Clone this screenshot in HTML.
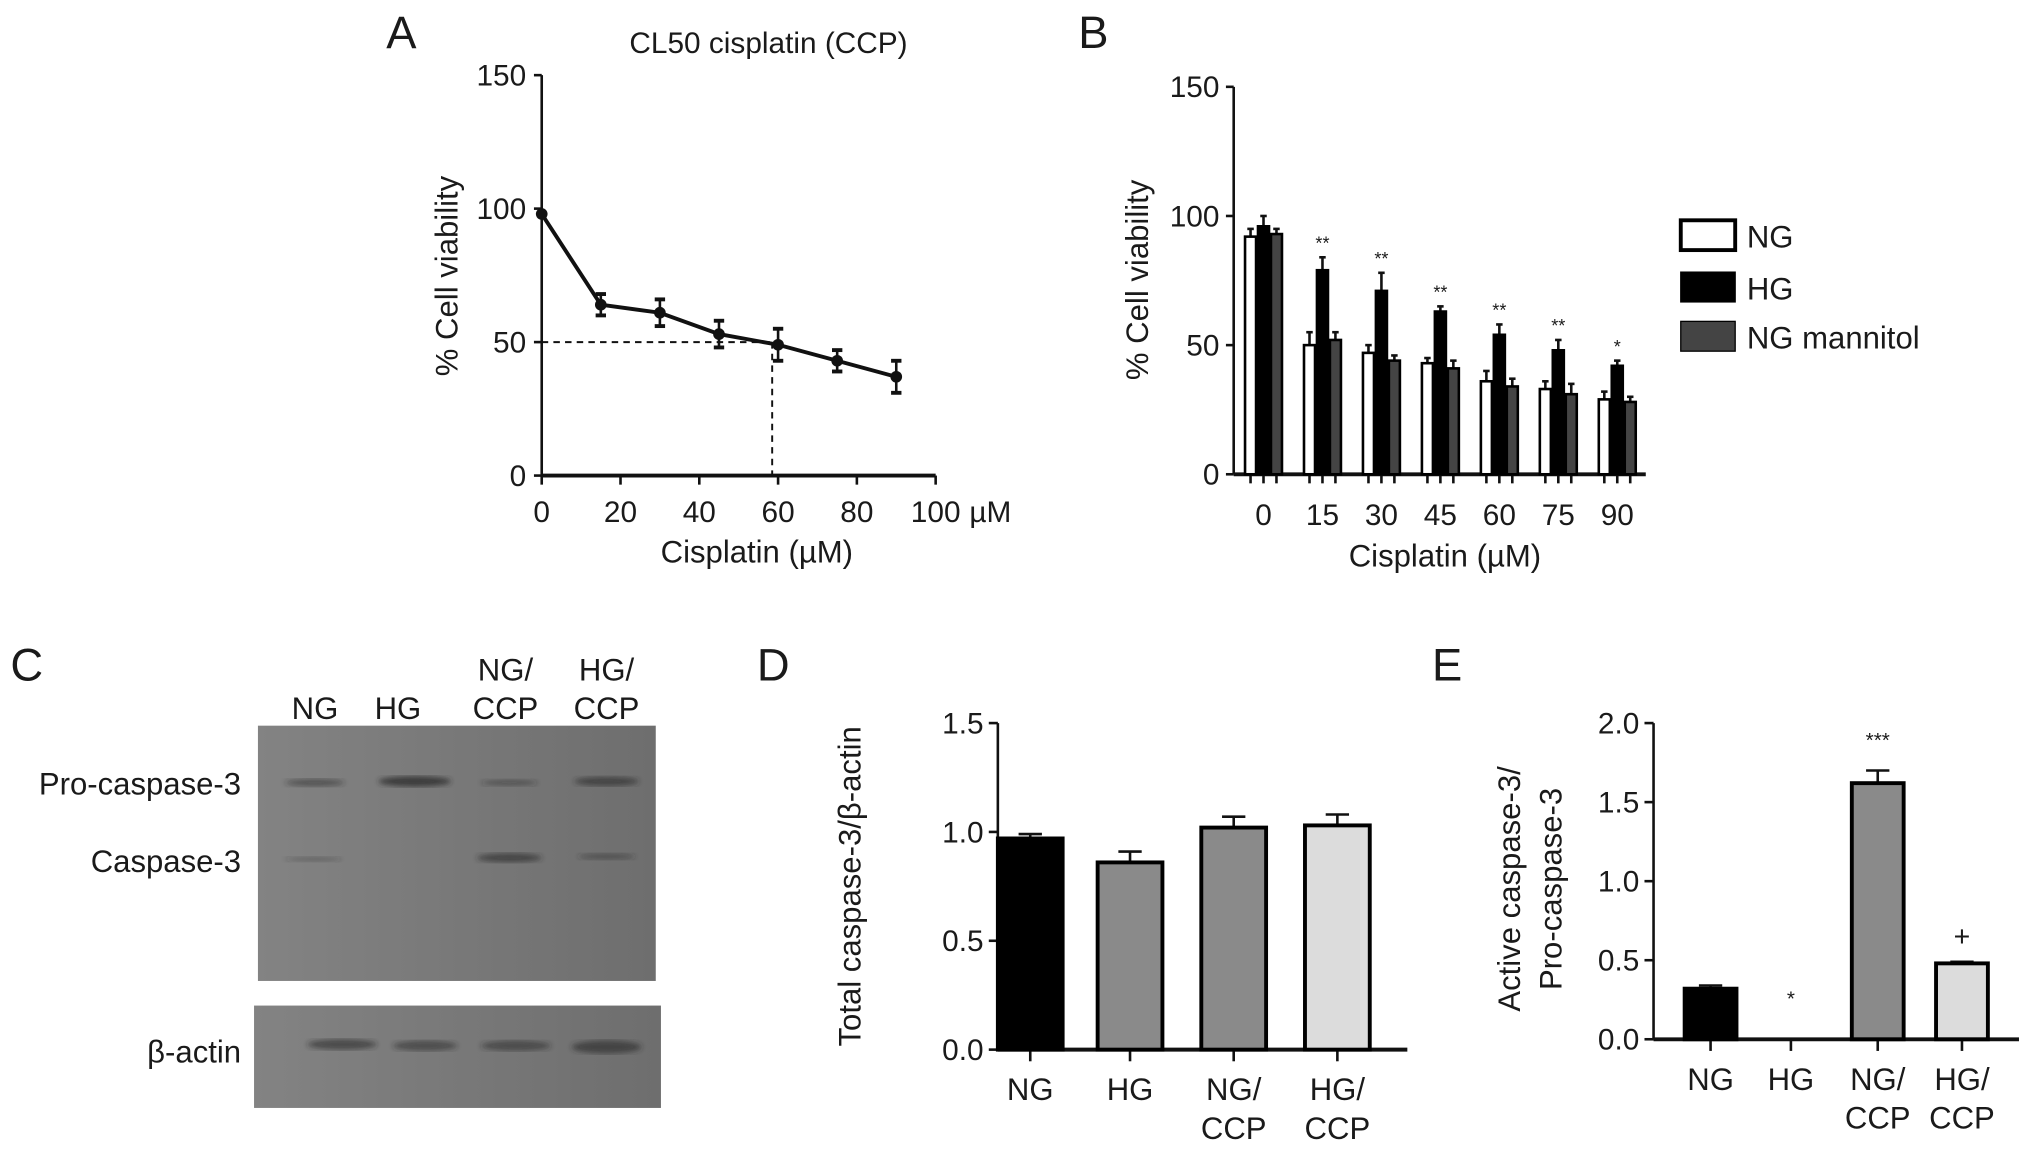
<!DOCTYPE html>
<html><head><meta charset="utf-8"><style>
html,body{margin:0;padding:0;background:#fff}
svg{display:block}
text{font-family:"Liberation Sans",Arial,sans-serif;fill:#1a1a1a}
</style></head><body>
<svg id="fig" width="2032" height="1152" viewBox="0 0 1568 889" xmlns="http://www.w3.org/2000/svg">
<g id="pA"></g>
<g id="pB"></g>
<g id="pC"></g>
<g id="pD"></g>
<g id="pE"></g>
</svg>
<script>
// Panel A data
const aDoses=[0,15,30,45,60,75,90];
const aViab=[98,64,61,53,49,43,37];
const aErr=[2,4,5,5,6,4,6];
const aXTicks=[0,20,40,60,80,100];
const aYTicks=[0,50,100,150];
// Panel B data
const bDoses=["0","15","30","45","60","75","90"];
const bNG=[92,50,47,43,36,33,29];
const bHG=[96,79,71,63,54,48,42];
const bMan=[93,52,44,41,34,31,28];
const bNGErr=[3,5,3,2,4,3,3];
const bHGErr=[4,5,7,2,4,4,2];
const bManErr=[2,3,2,3,3,4,2];
const bStars=["","**","**","**","**","**","*"];
const bYTicks=[0,50,100,150];
// Panel D data
const dCats=[["NG"],["HG"],["NG/","CCP"],["HG/","CCP"]];
const dVals=[0.97,0.86,1.02,1.03];
const dErr=[0.02,0.05,0.05,0.05];
const dYTicks=[0,0.5,1.0,1.5];
// Panel E data
const eCats=[["NG"],["HG"],["NG/","CCP"],["HG/","CCP"]];
const eVals=[0.32,0,1.62,0.48];
const eErr=[0.02,0,0.08,0.01];
const eMarks=["","*","***","+"];
const eYTicks=[0,0.5,1.0,1.5,2.0];

const NS="http://www.w3.org/2000/svg";
function mk(parent,tag,attrs,txt){const e=document.createElementNS(NS,tag);for(const k in attrs)e.setAttribute(k,attrs[k]);if(txt!==undefined)e.textContent=txt;parent.appendChild(e);return e;}
function line(p,x1,y1,x2,y2,w,dash){const l=mk(p,'line',{x1,y1,x2,y2,stroke:'#111','stroke-width':w||2});if(dash)l.setAttribute('stroke-dasharray',dash);return l;}
const TF=23, TT=24;

// ---------- Panel A ----------
(function(){
const g=document.getElementById('pA');
const xs=v=>418+v*3.04, ys=v=>367-v*(309/150);
let t=mk(g,'text',{x:298,y:37,'font-size':35});t.textContent='A';


t=mk(g,'text',{x:593,y:41,'font-size':23,'text-anchor':'middle'},'CL50 cisplatin (CCP)');


let ax=line(g,418,ys(150),418,367,2);


ax=line(g,418,367,722,367,3);


aYTicks.forEach(v=>{line(g,412,ys(v),418,ys(v),2);const tt=mk(g,'text',{x:406,y:ys(v)+8,'font-size':TF,'text-anchor':'end'},String(v));

});
aXTicks.forEach(v=>{line(g,xs(v),367,xs(v),374,2);const tt=mk(g,'text',{x:xs(v),y:403,'font-size':TF,'text-anchor':'middle'},String(v));

});
mk(g,'text',{x:748,y:403,'font-size':TF},'µM');
t=mk(g,'text',{x:584,y:434,'font-size':TT,'text-anchor':'middle'},'Cisplatin (µM)');


t=mk(g,'text',{x:0,y:0,'font-size':TT,'text-anchor':'middle',transform:'translate(353,213) rotate(-90)'},'% Cell viability');


const c50=58.5;
line(g,418,ys(50),xs(c50),ys(50),1.5,'5,4');
line(g,xs(c50),ys(50),xs(c50),367,1.5,'5,4');
const pts=aDoses.map((d,i)=>xs(d)+','+ys(aViab[i])).join(' ');
const pl=mk(g,'polyline',{points:pts,fill:'none',stroke:'#111','stroke-width':3});


aDoses.forEach((d,i)=>{const x=xs(d),y=ys(aViab[i]);
 if(aErr[i]>2){line(g,x,ys(aViab[i]+aErr[i]),x,ys(aViab[i]-aErr[i]),2);line(g,x-4,ys(aViab[i]+aErr[i]),x+4,ys(aViab[i]+aErr[i]),3);line(g,x-4,ys(aViab[i]-aErr[i]),x+4,ys(aViab[i]-aErr[i]),3);}
 const c=mk(g,'circle',{cx:x,cy:y,r:4.5,fill:'#111'});
 
 });
})();

// ---------- Panel B ----------
(function(){
const g=document.getElementById('pB');
const ys=v=>366-v*(299/150);
const gx=i=>975+i*45.5;
const bw=8.5;
let t=mk(g,'text',{x:832,y:37,'font-size':35},'B');


let ax=line(g,952,ys(150),952,366,2);


ax=line(g,952,366,1270,366,3);


bYTicks.forEach(v=>{line(g,946,ys(v),952,ys(v),2);const tt=mk(g,'text',{x:941,y:ys(v)+8,'font-size':TF,'text-anchor':'end'},String(v));

});
const series=[[bNG,bNGErr,'#fff'],[bHG,bHGErr,'#000'],[bMan,bManErr,'#444']];
bDoses.forEach((d,i)=>{
 series.forEach((s,k)=>{const x=gx(i)+(k-1)*(bw+1.5);const v=s[0][i],e=s[1][i];
  line(g,x,366,x,373,2);
  line(g,x,ys(v),x,ys(v+e),2);line(g,x-2.5,ys(v+e),x+2.5,ys(v+e),2);
  const r=mk(g,'rect',{x:x-bw/2,y:ys(v),width:bw,height:366-ys(v),fill:s[2],stroke:'#000','stroke-width':2});
  
  });
 const tt=mk(g,'text',{x:gx(i),y:405,'font-size':TF,'text-anchor':'middle'},d);
 
 
 if(bStars[i]){const st=mk(g,'text',{x:gx(i),y:ys(bHG[i]+bHGErr[i])-6,'font-size':14,'text-anchor':'middle'},bStars[i]);
 
 }
});
t=mk(g,'text',{x:1115,y:437,'font-size':TT,'text-anchor':'middle'},'Cisplatin (µM)');


t=mk(g,'text',{x:0,y:0,'font-size':TT,'text-anchor':'middle',transform:'translate(886,216) rotate(-90)'},'% Cell viability');


const leg=[['NG','#fff',170],['HG','#000',210],['NG mannitol','#444',248]];
leg.forEach(l=>{const r=mk(g,'rect',{x:1297,y:l[2],width:42,height:23,fill:l[1],stroke:'#000','stroke-width':l[1]=='#fff'?3:1});
 
 
 const tt=mk(g,'text',{x:1348,y:l[2]+21,'font-size':24},l[0]);
 
 });
})();

// ---------- Panel C (western blot) ----------
(function(){
const g=document.getElementById('pC');
let t=mk(g,'text',{x:8,y:525,'font-size':35},'C');


const defs=mk(g,'defs',{});
const lg=mk(defs,'linearGradient',{id:'blotg',x1:0,y1:0,x2:1,y2:0});
mk(lg,'stop',{offset:0,'stop-color':'#838383'});mk(lg,'stop',{offset:1,'stop-color':'#6e6e6e'});
const bf=mk(defs,'filter',{id:'blur'});mk(bf,'feGaussianBlur',{stdDeviation:2});
let r=mk(g,'rect',{x:199,y:560,width:307,height:197,fill:'url(#blotg)'});


r=mk(g,'rect',{x:196,y:776,width:314,height:79,fill:'url(#blotg)'});


const lanes=[[243,['NG']],[307,['HG']],[390,['NG/','CCP']],[468,['HG/','CCP']]];
lanes.forEach(l=>{const ys=l[1].length==1?[555]:[525,555];l[1].forEach((s,j)=>{const tt=mk(g,'text',{x:l[0],y:ys[j],'font-size':24,'text-anchor':'middle'},s);
 
 });});
const rows=[['Pro-caspase-3',613],['Caspase-3',673],['β-actin',820]];
rows.forEach(rw=>{const tt=mk(g,'text',{x:186,y:rw[1],'font-size':24,'text-anchor':'end'},rw[0]);
 
 });
const bands=[[243,604,46,6,0.5],[320,603,56,8,0.8],[393,604,44,5,0.4],[468,603,50,7,0.65],
 [242,663,44,4,0.3],[393,662,50,7,0.65],[468,661,44,5,0.45],
 [264,806,54,8,0.6],[328,807,50,8,0.55],[398,807,54,8,0.55],[468,808,54,10,0.65]];
bands.forEach(b=>{const e=mk(g,'ellipse',{cx:b[0],cy:b[1],rx:b[2]/2,ry:b[3]/2,fill:'#2a2a2a','fill-opacity':b[4],filter:'url(#blur)'});
 
 });
})();

// ---------- Generic bar panel ----------
function barPanel(g,o){
 const ys=v=>o.y0-v*(o.y0-o.yTop)/o.yMax;
 let t=mk(g,'text',{x:o.lx,y:525,'font-size':35},o.label);
 
 
 let ax=line(g,o.ax,o.yTop,o.ax,o.y0,2);
 
 
 ax=line(g,o.ax,o.y0,o.axEnd,o.y0,3);
 
 
 o.ticks.forEach(v=>{line(g,o.ax-7,ys(v),o.ax,ys(v),2);const tt=mk(g,'text',{x:o.ax-11,y:ys(v)+8,'font-size':TF,'text-anchor':'end'},v.toFixed(1));
  
  });
 o.cats.forEach((c,i)=>{const cx=o.cx[i];
  line(g,cx,o.y0,cx,o.y0+9,2);
  c.forEach((s,j)=>{const tt=mk(g,'text',{x:cx,y:o.y0+39+j*30,'font-size':24,'text-anchor':'middle'},s);
   
   });
  const v=o.vals[i],e=o.err[i];
  if(v>0){
   if(e>0){line(g,cx,ys(v),cx,ys(v+e),2);line(g,cx-9,ys(v+e),cx+9,ys(v+e),2);}
   const r=mk(g,'rect',{x:cx-o.bw/2,y:ys(v),width:o.bw,height:o.y0-ys(v),fill:o.colors[i],stroke:'#000','stroke-width':3});
   
   
  }
  if(o.marks&&o.marks[i]){const mm=mk(g,'text',{x:cx,y:(v>0?ys(v+e):o.y0)-(o.marks[i]=='***'?18:12)-(v>0?0:14),'font-size':o.marks[i]=='+'?22:16,'text-anchor':'middle'},o.marks[i]);
   
   }
 });
 o.ytitle.forEach((s,j)=>{const tt=mk(g,'text',{x:0,y:0,'font-size':TT,'text-anchor':'middle',transform:'translate('+(o.tx+j*32)+','+o.ty+') rotate(-90)'},s);
  
  });
}
barPanel(document.getElementById('pD'),{label:'D',lx:584,ax:770,axEnd:1086,y0:810,yTop:558,yMax:1.5,ticks:dYTicks,
 cats:dCats,vals:dVals,err:dErr,cx:[795,872,952,1032],bw:50,colors:['#000','#8a8a8a','#8a8a8a','#dcdcdc'],
 ytitle:['Total caspase-3/β-actin'],tx:664,ty:684});
barPanel(document.getElementById('pE'),{label:'E',lx:1105,ax:1276,axEnd:1558,y0:802,yTop:558,yMax:2.0,ticks:eYTicks,
 cats:eCats,vals:eVals,err:eErr,marks:eMarks,cx:[1320,1382,1449,1514],bw:40,colors:['#000','#8a8a8a','#8a8a8a','#dcdcdc'],
 ytitle:['Active caspase-3/','Pro-caspase-3'],tx:1173,ty:686});
</script>
</body></html>
